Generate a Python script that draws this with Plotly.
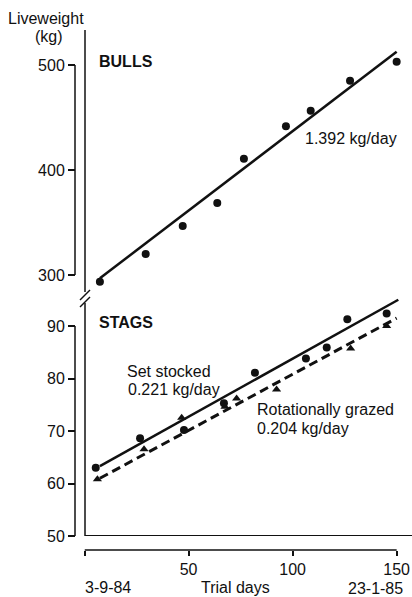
import plotly.graph_objects as go

W, H = 412, 597

# ---- data ----
bull_days = [7.4, 29.4, 47.2, 63.8, 76.6, 96.8, 108.7, 127.6, 150.0]
bull_kg = [293.6, 320.0, 346.7, 368.6, 410.8, 441.6, 456.5, 485.0, 503.1]
bull_fit_days = [7.4, 150.0]
bull_fit_kg = [296.9, 512.7]

set_days = [5.4, 26.7, 47.8, 67.0, 81.9, 106.4, 116.4, 126.3, 145.2]
set_kg = [63.0, 68.6, 70.2, 75.3, 81.1, 83.8, 85.9, 91.3, 92.4]
set_fit_days = [7.4, 150.8]
set_fit_kg = [63.3, 95.0]

rot_days = [6.2, 28.6, 46.7, 67.5, 73.1, 92.3, 127.9, 145.2]
rot_kg = [60.8, 66.5, 72.5, 74.6, 76.2, 77.9, 85.7, 90.0]
rot_fit_days = [7.4, 150.0]
rot_fit_kg = [61.0, 91.5]

x_ticks = [0, 50, 100, 150]
x_ticktext = ["", "50", "100", "150"]
bull_ticks = [300, 400, 500]
stag_ticks = [50, 60, 70, 80, 90]

FONT = "Liberation Sans, Arial, Helvetica, sans-serif"
INK = "#111111"


def px(x, y):
    return x / W, 1 - y / H


fig = go.Figure()

fig.add_trace(go.Scatter(x=bull_fit_days, y=bull_fit_kg, mode="lines",
                         line=dict(color=INK, width=2.5), xaxis="x", yaxis="y2",
                         showlegend=False))
fig.add_trace(go.Scatter(x=bull_days, y=bull_kg, mode="markers",
                         marker=dict(color=INK, size=8, symbol="circle"),
                         xaxis="x", yaxis="y2", showlegend=False))

fig.add_trace(go.Scatter(x=set_fit_days, y=set_fit_kg, mode="lines",
                         line=dict(color=INK, width=2.5), xaxis="x", yaxis="y",
                         showlegend=False))
fig.add_trace(go.Scatter(x=rot_fit_days, y=rot_fit_kg, mode="lines",
                         line=dict(color=INK, width=3, dash="9px,5px"),
                         xaxis="x", yaxis="y", showlegend=False))
fig.add_trace(go.Scatter(x=set_days, y=set_kg, mode="markers",
                         marker=dict(color=INK, size=8, symbol="circle"),
                         xaxis="x", yaxis="y", showlegend=False))
fig.add_trace(go.Scatter(x=rot_days, y=rot_kg, mode="markers",
                         marker=dict(color=INK, size=8, symbol="triangle-up"),
                         xaxis="x", yaxis="y", showlegend=False))

x0_px, px_per_day = 84.5, 2.081
x_max = (W - x0_px) / px_per_day

tickfont = dict(family=FONT, size=16, color=INK)

fig.update_layout(
    width=W, height=H,
    margin=dict(l=0, r=0, t=0, b=0),
    paper_bgcolor="white", plot_bgcolor="rgba(0,0,0,0)",
    xaxis=dict(domain=[x0_px / W, 1.0], range=[0, x_max], anchor="free",
               position=1 - 550 / H, tickmode="array", tickvals=x_ticks,
               ticktext=x_ticktext, ticks="outside", ticklen=5, tickwidth=1.5,
               tickcolor=INK, showline=False, showgrid=False, zeroline=False,
               tickfont=tickfont, automargin=False),
    yaxis=dict(domain=[1 - 536 / H, 1 - 297 / H],
               range=[50, 50 + (536 - 297) / 5.25], anchor="free",
               position=75 / W, tickmode="array", tickvals=stag_ticks,
               ticks="outside", ticklen=7, tickwidth=1.5, tickcolor=INK,
               showline=False, showgrid=False, zeroline=False,
               tickfont=tickfont, automargin=False),
    yaxis2=dict(domain=[1 - 290 / H, 1 - 30 / H],
                range=[300 - 15 / 1.05, 500 + 35 / 1.05], anchor="free",
                position=75 / W, tickmode="array", tickvals=bull_ticks,
                ticks="outside", ticklen=7, tickwidth=1.5, tickcolor=INK,
                showline=False, showgrid=False, zeroline=False,
                tickfont=tickfont, automargin=False),
)

line = dict(color=INK, width=1.5)
shapes = []
# y axis lines (only across tick range)
shapes.append(dict(type="line", xref="paper", yref="y2", x0=75 / W, x1=75 / W,
                   y0=bull_ticks[0], y1=bull_ticks[-1], line=line))
shapes.append(dict(type="line", xref="paper", yref="y", x0=75 / W, x1=75 / W,
                   y0=stag_ticks[0], y1=stag_ticks[-1], line=line))
# x axis line
shapes.append(dict(type="line", xref="x", yref="paper", x0=x_ticks[0], x1=x_ticks[-1],
                   y0=1 - 550 / H, y1=1 - 550 / H, line=line))
# frame: bottom line at 50 kg
shapes.append(dict(type="line", xref="paper", yref="y", x0=85 / W, x1=1.0,
                   y0=50, y1=50, line=dict(color=INK, width=2)))
# frame: vertical broken line
for (ya, yb) in [(30, 292), (303, 536)]:
    a = px(85, ya)
    b = px(85, yb)
    shapes.append(dict(type="line", xref="paper", yref="paper", x0=a[0], x1=b[0],
                       y0=a[1], y1=b[1], line=line))
# break marks
for (xa, ya, xb, yb) in [(80, 300, 90, 290), (80, 307, 90, 297)]:
    a = px(xa, ya)
    b = px(xb, yb)
    shapes.append(dict(type="line", xref="paper", yref="paper", x0=a[0], x1=b[0],
                       y0=a[1], y1=b[1], line=line))
fig.update_layout(shapes=shapes)


def label(text, x, y, anchor="left", bold=False, size=16):
    pxx, pyy = px(x, y)
    fig.add_annotation(text=f"<b>{text}</b>" if bold else text, x=pxx, y=pyy,
                       xref="paper", yref="paper", xanchor=anchor, yanchor="middle",
                       showarrow=False, font=dict(family=FONT, size=size, color=INK))


label("Liveweight", 6, 18)
label("(kg)", 49, 37, anchor="center")
label("BULLS", 97, 61, bold=True)
label("1.392 kg/day", 303, 138)
label("STAGS", 97, 322, bold=True)
label("Set stocked", 125, 371)
label("0.221 kg/day", 126, 389)
label("Rotationally grazed", 255, 409)
label("0.204 kg/day", 255, 428)
label("3-9-84", 83, 587)
label("Trial days", 235, 587, anchor="center")
label("23-1-85", 346, 588)

fig.write_html(
    "out.html",
    config={"displayModeBar": False},
    post_script="document.body.style.margin='0';document.body.style.overflow='hidden';",
)
